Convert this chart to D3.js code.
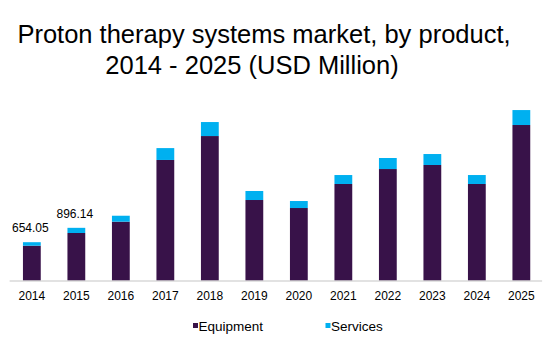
<!DOCTYPE html>
<html>
<head>
<meta charset="utf-8">
<script src="https://cdn.jsdelivr.net/npm/d3@7"></script>
<style>
  body { margin: 0; background: #fff; }
  svg { display: block; font-family: "Liberation Sans", Arial, sans-serif; }
</style>
</head>
<body>
<svg id="chart" width="559" height="341"></svg>
<script>
const years = ["2014", "2015", "2016", "2017", "2018", "2019", "2020", "2021", "2022", "2023", "2024", "2025"];
const equipment = [595, 809, 1000, 2040, 2443, 1365, 1230, 1635, 1887, 1955, 1635, 2629];
const services = [59.05, 87.14, 100, 200, 236, 152, 118, 151, 186, 185, 151, 252];
const valueLabels = ["654.05", "896.14"];
const seriesNames = ["Equipment", "Services"];
const colors = ["#381249", "#00b0f0"];

const svg = d3.select("#chart");
const dims = { left: 9.6, right: 543.6, base: 281, top: 103 };

const rows = years.map((y, i) => ({ year: y, Equipment: equipment[i], Services: services[i] }));
const stacked = d3.stack().keys(seriesNames)(rows);

const x = d3.scaleBand().domain(years).range([dims.left, dims.right]).paddingInner(0.6).paddingOuter(0.3);
const y = d3.scaleLinear().domain([0, 3000]).range([dims.base, dims.top]);
const color = d3.scaleOrdinal().domain(seriesNames).range(colors);

// title
const title = svg.append("g").attr("font-size", 25.5).attr("fill", "#000");
title.append("text").attr("x", 264).attr("y", 43).attr("text-anchor", "middle")
  .text("Proton therapy systems market, by product,");
title.append("text").attr("x", 252).attr("y", 74).attr("text-anchor", "middle")
  .text("2014 - 2025 (USD Million)");

// bars
svg.append("g")
  .selectAll("g")
  .data(stacked)
  .join("g")
  .attr("fill", (d) => color(d.key))
  .selectAll("rect")
  .data((d) => d)
  .join("rect")
  .attr("x", (d) => x(d.data.year))
  .attr("width", x.bandwidth())
  .attr("y", (d) => y(d[1]))
  .attr("height", (d) => y(d[0]) - y(d[1]));

// value labels
svg.append("g")
  .attr("font-size", 12)
  .attr("text-anchor", "middle")
  .selectAll("text")
  .data(valueLabels)
  .join("text")
  .attr("x", (d, i) => x(years[i]) + x.bandwidth() / 2 - 1.5)
  .attr("y", (d, i) => y(equipment[i] + services[i]) - 10)
  .text((d) => d);

// x axis
const xAxis = svg.append("g")
  .attr("transform", `translate(0,${dims.base})`)
  .call(d3.axisBottom(x).tickSize(0).tickPadding(10));
xAxis.select(".domain").attr("stroke", "#d9d9d9").attr("stroke-width", 1.5)
  .attr("d", `M${dims.left},0H${dims.right - 1.5}`);
xAxis.selectAll("text").attr("font-size", 12).attr("font-family", null).attr("fill", "#000");

// legend
const legendX = [193, 325.5];
const legend = svg.append("g").attr("font-size", 13.5)
  .selectAll("g")
  .data(seriesNames)
  .join("g")
  .attr("transform", (d, i) => `translate(${legendX[i]},323)`);
legend.append("rect").attr("width", 5).attr("height", 5).attr("fill", (d) => color(d));
legend.append("text").attr("x", 5.5).attr("y", 8).text((d) => d);
</script>
</body>
</html>
